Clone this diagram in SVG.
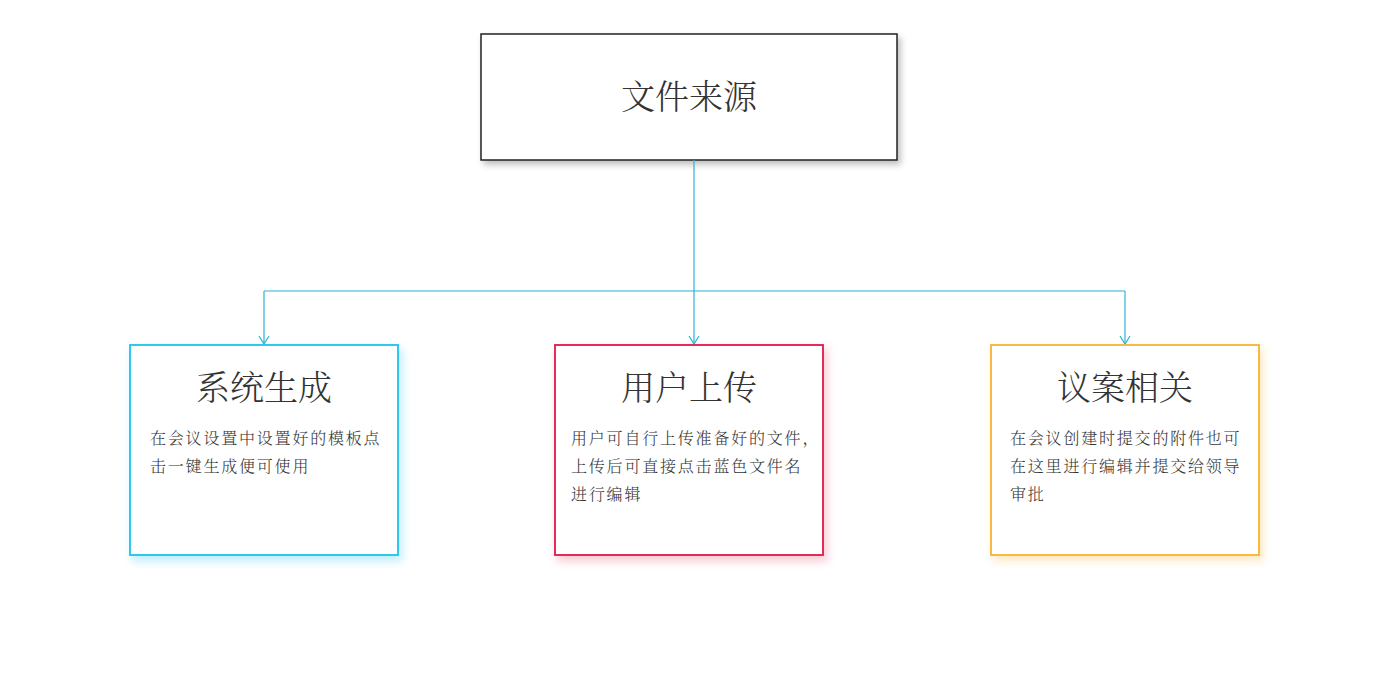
<svg xmlns="http://www.w3.org/2000/svg" width="1382" height="692" viewBox="0 0 1382 692">
<style>
text{font-family:"Noto Serif CJK SC","Noto Sans CJK SC",serif;fill:#333;font-weight:300}
.t{font-size:34px;text-anchor:middle}
.b{font-size:16px;letter-spacing:1.8px}
.c{fill:none;stroke:#2bb4d6;stroke-width:1.2}
</style>
<defs>
<marker id="a" markerWidth="12" markerHeight="12" refX="10" refY="6" orient="auto" markerUnits="userSpaceOnUse"><path d="M2,1 L10,6 L2,11" fill="none" stroke="#2bb4d6" stroke-width="1.2"/></marker>
<filter id="s" x="-10%" y="-10%" width="130%" height="130%"><feDropShadow dx="3" dy="4" stdDeviation="3" flood-opacity="0.25"/></filter>
<filter id="sb" x="-10%" y="-10%" width="130%" height="130%"><feDropShadow dx="3" dy="5" stdDeviation="4" flood-color="#1cc3ea" flood-opacity="0.3"/></filter>
<filter id="sr" x="-10%" y="-10%" width="130%" height="130%"><feDropShadow dx="3" dy="5" stdDeviation="4" flood-color="#e0174a" flood-opacity="0.25"/></filter>
<filter id="sy" x="-10%" y="-10%" width="130%" height="130%"><feDropShadow dx="3" dy="5" stdDeviation="4" flood-color="#f9b233" flood-opacity="0.3"/></filter>
</defs>
<g id="root"><rect x="481" y="34" width="416" height="126" fill="#fff" stroke="#222" stroke-width="1.5" filter="url(#s)"/><text class="t" x="689" y="109">文件来源</text></g>
<g id="connectors">
<path class="c" d="M694,160 V291"/>
<path class="c" d="M264,291 H1125"/>
<path class="c" d="M264,291 V344" marker-end="url(#a)"/>
<path class="c" d="M694,291 V344" marker-end="url(#a)"/>
<path class="c" d="M1125,291 V344" marker-end="url(#a)"/>
</g>
<g id="n1"><rect x="130" y="345" width="268" height="210" fill="#fff" stroke="#1cc3ea" stroke-width="1.8" filter="url(#sb)"/><text class="t" x="264" y="400">系统生成</text><text class="b" x="150" y="444">在会议设置中设置好的模板点</text><text class="b" x="150" y="472">击一键生成便可使用</text></g>
<g id="n2"><rect x="555" y="345" width="268" height="210" fill="#fff" stroke="#e0174a" stroke-width="1.8" filter="url(#sr)"/><text class="t" x="689" y="400">用户上传</text><text class="b" x="571" y="444">用户可自行上传准备好的文件，</text><text class="b" x="571" y="472">上传后可直接点击蓝色文件名</text><text class="b" x="571" y="500">进行编辑</text></g>
<g id="n3"><rect x="991" y="345" width="268" height="210" fill="#fff" stroke="#f9b233" stroke-width="1.8" filter="url(#sy)"/><text class="t" x="1125" y="400">议案相关</text><text class="b" x="1010" y="444">在会议创建时提交的附件也可</text><text class="b" x="1010" y="472">在这里进行编辑并提交给领导</text><text class="b" x="1010" y="500">审批</text></g>
</svg>
